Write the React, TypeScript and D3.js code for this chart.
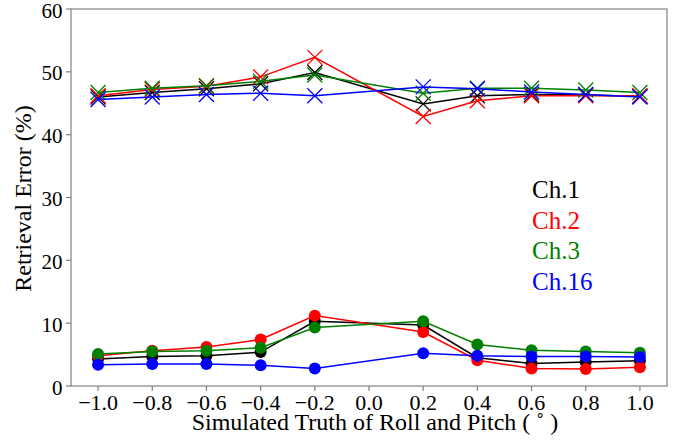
import React from "react";
import * as d3 from "d3";

const xs = [-1.0, -0.8, -0.6, -0.4, -0.2, 0.2, 0.4, 0.6, 0.8, 1.0];
const channels = ["Ch.1", "Ch.2", "Ch.3", "Ch.16"];
const colors = ["#000000", "#ff0000", "#008000", "#0000ff"];

// upper curves (x markers)
const upperCh1 = [46.0, 46.7, 47.3, 48.1, 49.9, 44.9, 46.2, 46.4, 46.3, 46.1];
const upperCh2 = [46.2, 47.2, 47.7, 49.2, 52.3, 42.9, 45.4, 46.2, 46.2, 46.2];
const upperCh3 = [46.7, 47.4, 47.8, 48.5, 49.5, 46.6, 47.4, 47.4, 47.1, 46.7];
const upperCh16 = [45.6, 46.0, 46.4, 46.6, 46.2, 47.6, 47.3, 46.8, 46.4, 46.0];

// lower curves (circle markers)
const lowerCh1 = [4.3, 4.7, 4.8, 5.4, 10.3, 9.7, 4.5, 3.6, 3.8, 4.0];
const lowerCh2 = [4.8, 5.6, 6.2, 7.4, 11.2, 8.6, 4.1, 2.8, 2.7, 3.0];
const lowerCh3 = [5.1, 5.5, 5.6, 6.1, 9.3, 10.3, 6.6, 5.7, 5.5, 5.3];
const lowerCh16 = [3.4, 3.5, 3.5, 3.3, 2.8, 5.2, 4.8, 4.7, 4.7, 4.6];

const upper = [upperCh1, upperCh2, upperCh3, upperCh16];
const lower = [lowerCh1, lowerCh2, lowerCh3, lowerCh16];

const xTicks = [-1.0, -0.8, -0.6, -0.4, -0.2, 0.0, 0.2, 0.4, 0.6, 0.8, 1.0];
const yTicks = [0, 10, 20, 30, 40, 50, 60];

const W = 681;
const H = 445;
const L = 71, R = 667, T = 9, B = 386;
const FONT = "'Liberation Serif', 'Times New Roman', serif";
const AXIS = "#808080";

export default function App() {
  const x = d3.scaleLinear().domain([-1.1, 1.1]).range([L, R]);
  const y = d3.scaleLinear().domain([0, 60]).range([B, T]);
  const line = d3
    .line<number>()
    .x((_, i) => x(xs[i]))
    .y((d) => y(d));
  const fmt = (v: number) => (v < 0 ? "\u2212" + Math.abs(v).toFixed(1) : v.toFixed(1));
  const s = 7.5;

  return (
    <svg
      width={W}
      height={H}
      style={{ position: "absolute", left: 0, top: 0, background: "#fff" }}
      fontFamily={FONT}
    >
      <rect x={0} y={0} width={W} height={H} fill="#fff" />
      {channels.map((c, ci) => (
        <g key={"u" + c}>
          <path d={line(upper[ci]) || ""} fill="none" stroke={colors[ci]} strokeWidth={1.5} />
          {upper[ci].map((v, i) => (
            <path
              key={i}
              d={`M${x(xs[i]) - s},${y(v) - s}L${x(xs[i]) + s},${y(v) + s}M${x(xs[i]) - s},${y(v) + s}L${x(xs[i]) + s},${y(v) - s}`}
              stroke={colors[ci]}
              strokeWidth={1.3}
              fill="none"
            />
          ))}
        </g>
      ))}
      {channels.map((c, ci) => (
        <g key={"l" + c}>
          <path d={line(lower[ci]) || ""} fill="none" stroke={colors[ci]} strokeWidth={1.5} />
          {lower[ci].map((v, i) => (
            <circle key={i} cx={x(xs[i])} cy={y(v)} r={6} fill={colors[ci]} />
          ))}
        </g>
      ))}
      <rect x={L} y={T} width={R - L} height={B - T} fill="none" stroke={AXIS} strokeWidth={1.2} />
      {xTicks.map((t) => (
        <g key={"xt" + t}>
          <line x1={x(t)} x2={x(t)} y1={B} y2={B + 5} stroke={AXIS} strokeWidth={1.2} />
          <text x={x(t)} y={B + 23.5} textAnchor="middle" fontSize={22} fill="#000">
            {fmt(t)}
          </text>
        </g>
      ))}
      {yTicks.map((t) => (
        <g key={"yt" + t}>
          <line x1={L - 5} x2={L} y1={y(t)} y2={y(t)} stroke={AXIS} strokeWidth={1.2} />
          <text x={L - 8.5} y={y(t) + 8.5} textAnchor="end" fontSize={21} fill="#000">
            {t}
          </text>
        </g>
      ))}
      <text x={(L + R) / 2 + 6} y={430} textAnchor="middle" fontSize={24} fill="#000">
        Simulated Truth of Roll and Pitch ( ˚ )
      </text>
      <text
        transform={`translate(31,${(T + B) / 2 + 1}) rotate(-90)`}
        textAnchor="middle"
        fontSize={24}
        fill="#000"
      >
        Retrieval Error (%)
      </text>
      {channels.map((c, ci) => (
        <text key={"lg" + c} x={532} y={198 + ci * 30.7} fontSize={25} fill={colors[ci]}>
          {c}
        </text>
      ))}
    </svg>
  );
}
